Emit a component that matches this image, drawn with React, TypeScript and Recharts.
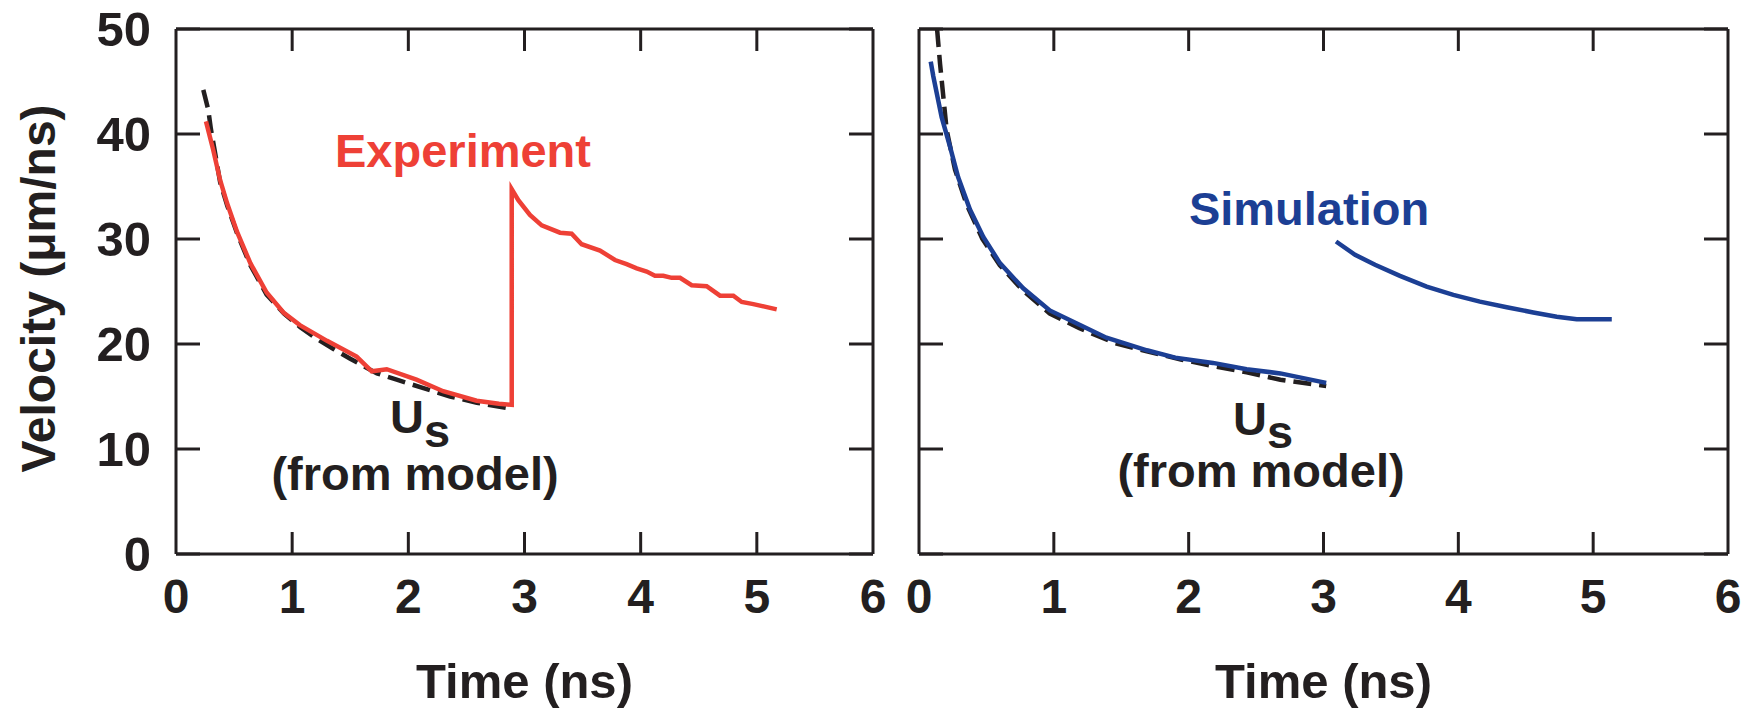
import React from "react"
import { LineChart, Line, XAxis, YAxis } from "recharts"

const INK = "#231f20"
const RED = "#ee4036"
const BLUE = "#1c3f94"
const FONT = "'Liberation Sans', Arial, Helvetica, sans-serif"

const timeTicks = [0, 1, 2, 3, 4, 5, 6]
const velocityTicks = [0, 10, 20, 30, 40, 50]

// left panel: experiment (red) and model Us (dashed)
const experimentTime = [
  0.258, 0.32, 0.38, 0.44, 0.525, 0.64, 0.78, 0.925, 1.066, 1.3, 1.555, 1.685, 1.814, 2.07, 2.3, 2.588,
  2.78, 2.89, 2.89, 2.947, 3.047, 3.148, 3.306, 3.406, 3.492, 3.65, 3.779, 3.879, 3.966, 4.052, 4.123,
  4.195, 4.267, 4.339, 4.439, 4.568, 4.683, 4.798, 4.87, 4.97, 5.171,
]
const experimentVelocity = [
  41.2, 38.5, 35.6, 33.4, 30.7, 27.7, 24.9, 23.0, 21.8, 20.3, 18.8, 17.4, 17.6, 16.6, 15.5, 14.6,
  14.3, 14.2, 34.75, 33.7, 32.3, 31.3, 30.6, 30.5, 29.5, 28.9, 28.0, 27.6, 27.2, 26.9, 26.5,
  26.5, 26.3, 26.3, 25.6, 25.5, 24.6, 24.6, 24.0, 23.8, 23.3,
]
const modelLeftTime = [
  0.235, 0.278, 0.3, 0.335, 0.38, 0.44, 0.53, 0.64, 0.78, 0.93, 1.07, 1.21, 1.36, 1.5, 1.73, 1.9, 2.13,
  2.36, 2.59, 2.85,
]
const modelLeftVelocity = [
  44.2, 42.3, 40.5, 38.3, 35.4, 33.2, 30.4, 27.5, 24.7, 22.9, 21.6, 20.5, 19.5, 18.6, 17.2, 16.6, 15.8,
  15.0, 14.4, 13.9,
]

// right panel: simulation (blue, two pieces) and model Us (dashed)
const simulationEarlyTime = [
  0.087, 0.106, 0.168, 0.23, 0.29, 0.378, 0.477, 0.6, 0.773, 0.97, 1.194, 1.39, 1.69, 1.9, 2.18, 2.43,
  2.68, 3.02,
]
const simulationEarlyVelocity = [
  46.9, 45.5, 41.6, 38.8, 35.9, 32.8, 30.2, 27.7, 25.3, 23.2, 21.8, 20.6, 19.4, 18.7, 18.2, 17.6,
  17.2, 16.3,
]
const simulationLateTime = [3.093, 3.234, 3.382, 3.567, 3.765, 3.963, 4.16, 4.359, 4.556, 4.73, 4.878, 5.138]
const simulationLateVelocity = [29.76, 28.5, 27.54, 26.49, 25.47, 24.68, 24.04, 23.5, 23.0, 22.6, 22.36, 22.36]
const modelRightTime = [
  0.134, 0.156, 0.205, 0.267, 0.353, 0.47, 0.6, 0.77, 0.97, 1.19, 1.45, 1.69, 1.95, 2.18, 2.43, 2.68, 3.02,
]
const modelRightVelocity = [
  50.0, 46.7, 40.4, 36.6, 33.3, 30.0, 27.5, 25.1, 22.9, 21.5, 20.1, 19.3, 18.5, 17.9, 17.3, 16.6, 16.0,
]

const zip = (ts: number[], vs: number[]) => ts.map((t, i) => ({ t, v: vs[i] }))

const PLOT_TOP = 29
const TICK_GAP = 25
const TICK_LEN = 22
const textStyle = { fontSize: 48, fontWeight: 700, fill: INK }
const frameLine = { stroke: INK, strokeWidth: 3 }
const hideTick = () => <g />

// x tick: label below the axis plus inward ticks at the bottom and top of the frame
const renderTimeTick = (props: any) => {
  const { x, y, payload } = props
  const bottom = y - TICK_GAP
  const inner = payload.value > timeTicks[0] && payload.value < timeTicks[timeTicks.length - 1]
  return (
    <g>
      {inner && <line x1={x} x2={x} y1={bottom} y2={bottom - TICK_LEN} stroke={INK} strokeWidth={3} />}
      {inner && <line x1={x} x2={x} y1={PLOT_TOP} y2={PLOT_TOP + TICK_LEN} stroke={INK} strokeWidth={3} />}
      <text x={x} y={y} dy="0.71em" textAnchor="middle" {...textStyle}>
        {payload.value}
      </text>
    </g>
  )
}

const axes = (showY: boolean) => [
  <XAxis
    key="x"
    xAxisId="x"
    type="number"
    dataKey="t"
    domain={[0, 6]}
    allowDataOverflow
    ticks={timeTicks}
    interval={0}
    height={150}
    tickLine={false}
    tickSize={0}
    tickMargin={TICK_GAP}
    tick={renderTimeTick}
    axisLine={frameLine}
    label={{ value: "Time (ns)", position: "insideBottom", offset: 6, ...textStyle, fontSize: 49 }}
  />,
  <XAxis
    key="xt"
    xAxisId="xt"
    orientation="top"
    mirror
    type="number"
    domain={[0, 6]}
    allowDataOverflow
    ticks={timeTicks}
    interval={0}
    tick={hideTick}
    tickLine={false}
    axisLine={frameLine}
  />,
  <YAxis
    key="y"
    yAxisId="y"
    type="number"
    domain={[0, 50]}
    allowDataOverflow
    ticks={velocityTicks}
    interval={0}
    width={showY ? 176 : 39}
    tickLine={false}
    tickSize={0}
    tickMargin={25}
    tick={showY ? { ...textStyle, fontSize: 49 } : hideTick}
    axisLine={frameLine}
    label={
      showY
        ? { value: "Velocity (\u03bcm/ns)", angle: -90, position: "center", dx: -50, dy: -3, ...textStyle }
        : undefined
    }
  />,
  <YAxis
    key="yl"
    yAxisId="yl"
    orientation="left"
    mirror
    type="number"
    domain={[0, 50]}
    allowDataOverflow
    ticks={velocityTicks}
    interval={0}
    tick={hideTick}
    tickSize={24}
    tickLine={frameLine}
    axisLine={false}
  />,
  <YAxis
    key="yr"
    yAxisId="yr"
    orientation="right"
    mirror
    type="number"
    domain={[0, 50]}
    allowDataOverflow
    ticks={velocityTicks}
    interval={0}
    tick={hideTick}
    tickSize={24}
    tickLine={frameLine}
    axisLine={frameLine}
  />,
]

export default function App() {
  return (
    <div
      style={{
        position: "absolute",
        left: 0,
        top: 0,
        width: 1751,
        height: 709,
        background: "#fff",
        fontFamily: FONT,
      }}
    >
      <div style={{ position: "absolute", left: 0, top: 0 }}>
        <LineChart width={900} height={709} margin={{ top: PLOT_TOP, right: 27, bottom: 5, left: 0 }}>
          {axes(true)}
          <Line
            xAxisId="x"
            yAxisId="y"
            data={zip(modelLeftTime, modelLeftVelocity)}
            dataKey="v"
            type="linear"
            stroke={INK}
            strokeWidth={4.5}
            strokeDasharray="18 8"
            dot={false}
            isAnimationActive={false}
          />
          <Line
            xAxisId="x"
            yAxisId="y"
            data={zip(experimentTime, experimentVelocity)}
            dataKey="v"
            type="linear"
            stroke={RED}
            strokeWidth={4.5}
            dot={false}
            isAnimationActive={false}
          />
        </LineChart>
      </div>

      <div style={{ position: "absolute", left: 880, top: 0 }}>
        <LineChart width={871} height={709} margin={{ top: PLOT_TOP, right: 23, bottom: 5, left: 0 }}>
          {axes(false)}
          <Line
            xAxisId="x"
            yAxisId="y"
            data={zip(modelRightTime, modelRightVelocity)}
            dataKey="v"
            type="linear"
            stroke={INK}
            strokeWidth={4.5}
            strokeDasharray="18 8"
            dot={false}
            isAnimationActive={false}
          />
          <Line
            xAxisId="x"
            yAxisId="y"
            data={zip(simulationEarlyTime, simulationEarlyVelocity)}
            dataKey="v"
            type="linear"
            stroke={BLUE}
            strokeWidth={4.5}
            dot={false}
            isAnimationActive={false}
          />
          <Line
            xAxisId="x"
            yAxisId="y"
            data={zip(simulationLateTime, simulationLateVelocity)}
            dataKey="v"
            type="linear"
            stroke={BLUE}
            strokeWidth={4.5}
            dot={false}
            isAnimationActive={false}
          />
        </LineChart>
      </div>

      {/* annotations */}
      <svg
        width={1751}
        height={709}
        style={{ position: "absolute", left: 0, top: 0, pointerEvents: "none" }}
        fontSize={47}
        fontWeight={700}
      >
        <text x={463} y={167} textAnchor="middle" fill={RED}>
          Experiment
        </text>
        <text x={1309} y={225} textAnchor="middle" fill={BLUE}>
          Simulation
        </text>
        <text x={420} y={433} textAnchor="middle" fill={INK}>
          U<tspan dy={14}>s</tspan>
        </text>
        <text x={415} y={490} textAnchor="middle" fill={INK}>
          (from model)
        </text>
        <text x={1263} y={435} textAnchor="middle" fill={INK}>
          U<tspan dy={13}>s</tspan>
        </text>
        <text x={1261} y={487} textAnchor="middle" fill={INK}>
          (from model)
        </text>
      </svg>
    </div>
  )
}
